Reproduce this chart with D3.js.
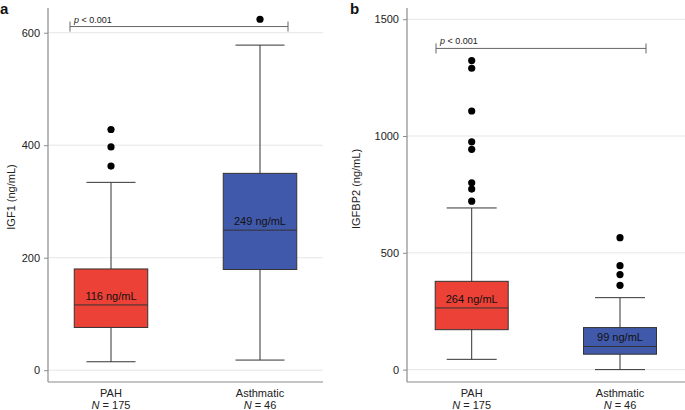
<!DOCTYPE html>
<html>
<head>
<meta charset="utf-8">
<script src="https://cdn.jsdelivr.net/npm/d3@7"></script>
<style>
  html, body { margin: 0; padding: 0; background: #fff; }
  svg { display: block; font-family: "Liberation Sans", Arial, Helvetica, sans-serif; }
</style>
</head>
<body>
<svg id="chart" width="685" height="410"></svg>
<script>
// ---- data ----
const groups = ["PAH", "Asthmatic"];
const groupN = [175, 46];
const boxColors = ["#ec4137", "#4159aa"];

// Panel a: IGF1 (ng/mL)
const igf1Lower = [15, 18];
const igf1Q1 = [76, 179];
const igf1Median = [116, 249];
const igf1Q3 = [180, 350];
const igf1Upper = [334, 578];
const igf1Outliers = [[363, 397, 428], [624]];
const igf1Ticks = [0, 200, 400, 600];
const igf1Bracket = 611;

// Panel b: IGFBP2 (ng/mL)
const igfbp2Lower = [44, 0];
const igfbp2Q1 = [171, 66];
const igfbp2Median = [264, 99];
const igfbp2Q3 = [378, 180];
const igfbp2Upper = [692, 308];
const igfbp2Outliers = [[721, 773, 800, 943, 975, 1107, 1290, 1323], [361, 407, 445, 565]];
const igfbp2Ticks = [0, 500, 1000, 1500];
const igfbp2Bracket = 1375;

const pLabel = "p < 0.001";

const svg = d3.select("#chart");

function drawPanel(cfg) {
  const g = svg.append("g");
  const y = d3.scaleLinear().domain(cfg.yDomain).range([382, 8]);
  const x = d3.scalePoint().domain(groups).range(cfg.xCenters);

  // gridlines
  g.selectAll("line.grid").data(cfg.ticks).enter().append("line")
    .attr("x1", cfg.axisX).attr("x2", cfg.plotRight)
    .attr("y1", d => y(d)).attr("y2", d => y(d))
    .attr("stroke", "#e6e6e6").attr("stroke-width", 1);

  // y axis
  const yAxis = d3.axisLeft(y).tickValues(cfg.ticks).tickFormat(d3.format("d"))
    .tickSize(4).tickPadding(4);
  const ya = g.append("g").attr("transform", `translate(${cfg.axisX},0)`).call(yAxis);
  ya.select(".domain").attr("stroke", "#8c8c8c").attr("stroke-width", 1.2).attr("d", `M0,382V8`);
  ya.selectAll(".tick line").attr("stroke", "#8c8c8c");
  ya.selectAll(".tick text").attr("fill", "#222").style("font-size", "11px")
    .style("font-family", "'Liberation Sans', Arial, sans-serif");

  // x axis line
  g.append("line").attr("x1", cfg.axisX).attr("x2", cfg.plotRight)
    .attr("y1", 382).attr("y2", 382).attr("stroke", "#8c8c8c").attr("stroke-width", 1.2);

  // y label
  g.append("text")
    .attr("transform", `translate(${cfg.yLabelX},${cfg.yLabelY}) rotate(-90)`)
    .attr("text-anchor", "middle").attr("dominant-baseline", "middle")
    .style("font-size", "11px").attr("fill", "#222").text(cfg.yLabel);

  // panel letter
  g.append("text").attr("x", cfg.letterX).attr("y", 14)
    .style("font-size", "15px").style("font-weight", "bold").attr("fill", "#111").text(cfg.letter);

  const bw = cfg.boxWidth, cw = cfg.capWidth;
  groups.forEach((grp, i) => {
    const cx = x(grp);
    const gg = g.append("g");
    // whiskers
    gg.append("line").attr("x1", cx).attr("x2", cx)
      .attr("y1", y(cfg.lower[i])).attr("y2", y(cfg.upper[i]))
      .attr("stroke", "#333").attr("stroke-width", 1);
    [cfg.lower[i], cfg.upper[i]].forEach(v => {
      gg.append("line").attr("x1", cx - cw / 2).attr("x2", cx + cw / 2)
        .attr("y1", y(v)).attr("y2", y(v)).attr("stroke", "#333").attr("stroke-width", 1);
    });
    // box
    gg.append("rect").attr("x", cx - bw / 2).attr("width", bw)
      .attr("y", y(cfg.q3[i])).attr("height", y(cfg.q1[i]) - y(cfg.q3[i]))
      .attr("fill", boxColors[i]).attr("stroke", "#333").attr("stroke-width", 1);
    // median
    gg.append("line").attr("x1", cx - bw / 2).attr("x2", cx + bw / 2)
      .attr("y1", y(cfg.median[i])).attr("y2", y(cfg.median[i]))
      .attr("stroke", "#333").attr("stroke-width", 1);
    // median label
    gg.append("text").attr("x", cx).attr("y", y(cfg.median[i]) - 5)
      .attr("text-anchor", "middle").style("font-size", "11px").attr("fill", "#111")
      .text(`${cfg.median[i]} ng/mL`);
    // outliers
    gg.selectAll("circle").data(cfg.outliers[i]).enter().append("circle")
      .attr("cx", cx).attr("cy", d => y(d)).attr("r", 3.6).attr("fill", "#000");
    // category labels
    gg.append("text").attr("x", cx).attr("y", 397).attr("text-anchor", "middle")
      .style("font-size", "11px").attr("fill", "#222").text(grp);
    const nt = gg.append("text").attr("x", cx).attr("y", 409).attr("text-anchor", "middle")
      .style("font-size", "11px").attr("fill", "#222");
    nt.append("tspan").style("font-style", "italic").text("N");
    nt.append("tspan").text(` = ${groupN[i]}`);
  });

  // significance bracket
  const by = y(cfg.bracket);
  const bx1 = cfg.bracketX[0], bx2 = cfg.bracketX[1];
  const br = g.append("g").attr("stroke", "#666").attr("stroke-width", 1).attr("fill", "none");
  br.append("line").attr("x1", bx1).attr("x2", bx2).attr("y1", by).attr("y2", by);
  br.append("line").attr("x1", bx1).attr("x2", bx1).attr("y1", by - 5).attr("y2", by + 5);
  br.append("line").attr("x1", bx2).attr("x2", bx2).attr("y1", by - 5).attr("y2", by + 5);
  const pt = g.append("text").attr("x", bx1 + 4).attr("y", by - 4)
    .style("font-size", "9px").attr("fill", "#222");
  pt.append("tspan").style("font-style", "italic").text(pLabel.slice(0, 1));
  pt.append("tspan").text(pLabel.slice(1));
}

drawPanel({
  letter: "a", letterX: 0,
  yDomain: [-21, 644], ticks: igf1Ticks, axisX: 48, plotRight: 323,
  xCenters: [111, 260], boxWidth: 73.5, capWidth: 49,
  lower: igf1Lower, q1: igf1Q1, median: igf1Median, q3: igf1Q3, upper: igf1Upper,
  outliers: igf1Outliers, bracket: igf1Bracket, bracketX: [70, 288],
  yLabel: "IGF1 (ng/mL)", yLabelX: 12, yLabelY: 197
});

drawPanel({
  letter: "b", letterX: 350,
  yDomain: [-53, 1548], ticks: igfbp2Ticks, axisX: 407, plotRight: 685,
  xCenters: [471.7, 620], boxWidth: 73, capWidth: 50,
  lower: igfbp2Lower, q1: igfbp2Q1, median: igfbp2Median, q3: igfbp2Q3, upper: igfbp2Upper,
  outliers: igfbp2Outliers, bracket: igfbp2Bracket, bracketX: [436, 646],
  yLabel: "IGFBP2 (ng/mL)", yLabelX: 357, yLabelY: 189
});
</script>
</body>
</html>
